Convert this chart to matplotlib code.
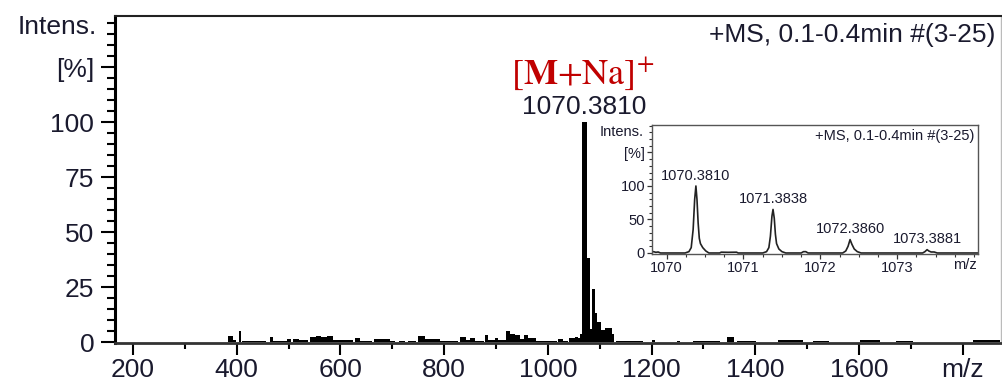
import matplotlib
matplotlib.use("Agg")
import matplotlib.pyplot as plt
from matplotlib.ticker import MultipleLocator

plt.rcParams['font.family'] = ['Liberation Sans', 'DejaVu Sans']

# ---- full-range spectrum: (m/z start, m/z end, relative intensity %) ----
seg_start = [383.8, 393.2, 405.0, 411.0, 464.0, 470.5, 496.0, 509.0, 521.0, 541.0, 552.0, 563.0, 574.0,
             586.0, 599.0, 628.0, 638.0, 664.0, 696.0, 712.0, 730.0, 750.0, 763.0, 792.0, 830.0,
             843.0, 849.0, 859.0, 878.0, 885.0, 898.0, 904.0, 919.0, 927.0, 937.0, 946.0, 953.0,
             962.0, 978.0, 1020.0, 1030.0, 1040.0, 1046.0, 1052.0, 1058.0, 1062.0,
             1066.5, 1074.5, 1081.2, 1084.4, 1091.0, 1095.4, 1101.8, 1110.0, 1123.0,
             1132.0, 1200.0, 1248.0, 1280.0, 1345.0, 1364.0, 1444.0, 1511.0, 1601.0, 1672.0, 1820.0]
seg_end = [393.2, 398.0, 408.0, 457.0, 470.5, 496.0, 505.0, 521.0, 537.0, 552.0, 563.0, 574.0, 586.0,
           599.0, 625.0, 638.0, 660.0, 696.0, 706.0, 724.0, 745.0, 763.0, 792.0, 826.0, 843.0,
           849.0, 859.0, 876.0, 885.0, 898.0, 904.0, 919.0, 927.0, 937.0, 946.0, 953.0, 962.0,
           978.0, 1018.0, 1030.0, 1038.0, 1046.0, 1052.0, 1058.0, 1062.0, 1066.5,
           1074.5, 1081.2, 1084.4, 1091.0, 1095.4, 1101.8, 1110.0, 1123.0, 1127.0,
           1184.0, 1206.0, 1254.0, 1332.0, 1358.0, 1402.0, 1492.0, 1543.0, 1640.0, 1704.0, 1871.0]
seg_int = [2.6, 0.8, 4.8, 0.4, 2.2, 0.6, 1.2, 1.4, 0.8, 2.4, 2.8, 2.3, 2.8,
           1.0, 0.7, 1.6, 0.6, 1.2, 0.5, 0.5, 0.5, 2.8, 1.2, 0.6, 2.2,
           1.0, 2.0, 0.6, 3.0, 1.0, 1.8, 0.8, 5.2, 3.8, 3.2, 1.5, 3.0,
           1.6, 0.6, 1.3, 0.6, 2.0, 1.6, 2.5, 2.0, 3.5,
           100.0, 38.0, 6.0, 24.0, 13.0, 9.0, 5.5, 6.5, 3.5,
           0.6, 0.8, 0.6, 0.6, 2.4, 0.6, 0.7, 0.6, 0.7, 0.6, 0.7]

x_ticks = [200, 400, 600, 800, 1000, 1200, 1400, 1600, 1800]
x_labels = ['200', '400', '600', '800', '1000', '1200', '1400', '1600', 'm/z']
y_ticks = [0, 25, 50, 75, 100, 125]
y_labels = ['0', '25', '50', '75', '100', '[%]']

main_peak_mz = 1070.3810
main_peak_int = 100.0
ion_label = r'$[\mathbf{M}\mathrm{+Na}]^{+}$'
scan_info = '+MS, 0.1-0.4min #(3-25)'

# ---- zoomed isotope envelope (profile trace) ----
iso_mz = [1069.81, 1069.83, 1069.86, 1069.89, 1069.92, 1070.24, 1070.29, 1070.32, 1070.345, 1070.365,
          1070.381, 1070.395, 1070.41, 1070.425, 1070.44, 1070.47, 1070.51, 1070.55, 1070.69, 1070.71,
          1070.80, 1070.91, 1070.93, 1071.25, 1071.30, 1071.33, 1071.35, 1071.37, 1071.384, 1071.40,
          1071.415, 1071.43, 1071.46, 1071.50, 1071.55, 1071.75, 1071.78, 1071.81, 1071.84, 1072.29,
          1072.33, 1072.36, 1072.386, 1072.41, 1072.44, 1072.48, 1072.53, 1073.33, 1073.36, 1073.388,
          1073.41, 1073.44, 1073.48, 1073.52, 1074.05]
iso_int = [1.5, 2.0, 1.0, 1.5, 0.0, 0.0, 2.0, 8.0, 35.0, 80.0,
           100.0, 80.0, 45.0, 22.0, 14.0, 8.0, 3.0, 0.0, 0.0, 1.2,
           1.0, 1.2, 0.0, 0.0, 2.0, 8.0, 25.0, 55.0, 65.0, 52.0,
           28.0, 14.0, 6.0, 2.0, 0.0, 0.0, 2.0, 2.0, 0.0, 0.0,
           3.0, 10.0, 20.0, 13.0, 6.0, 2.0, 0.0, 0.0, 2.0, 5.0,
           3.0, 1.5, 1.5, 0.0, 0.0]
iso_label_mz = [1070.3810, 1071.3838, 1072.3860, 1073.3881]
iso_label_int = [100.0, 65.0, 20.0, 5.0]
iso_x_ticks = [1070, 1071, 1072, 1073]
iso_y_ticks = [0, 50, 100, 150]
iso_y_labels = ['0', '50', '100', '[%]']

TXT = '#1a1a2e'
W, H = 1003, 385
fig = plt.figure(figsize=(W / 100, H / 100), dpi=100)

# ---------------- main spectrum ----------------
ax = fig.add_axes([115 / W, 1 - 343 / H, 886 / W, 327 / H])
widths = [e - s for s, e in zip(seg_start, seg_end)]
ax.bar(seg_start, seg_int, width=widths, align='edge', color='black', linewidth=0)
ax.set_xlim(165.3, 1873.7)

ax.set_xticks(x_ticks)
ax.set_xticklabels(x_labels)
ax.xaxis.set_minor_locator(MultipleLocator(100))
ax.set_yticks(y_ticks)
ax.set_yticklabels(y_labels)
ax.yaxis.set_minor_locator(MultipleLocator(5))
ax.set_ylim(-0.45, 148.2)

ax.tick_params(axis='x', which='major', length=8.6, width=1.5, pad=2, labelsize=19)
ax.tick_params(axis='x', which='minor', length=4.3, width=1.5)
ax.tick_params(axis='y', which='major', length=10, width=1.5, pad=5, labelsize=19)
ax.tick_params(axis='y', which='minor', length=5.8, width=1.5)
for lab in ax.get_xticklabels() + ax.get_yticklabels():
    lab.set_color(TXT)

ax.spines['left'].set_linewidth(2.2)
ax.spines['bottom'].set_linewidth(2.0)
ax.spines['bottom'].set_color('#333333')
ax.spines['top'].set_linewidth(1.5)
ax.spines['top'].set_color('#222222')
ax.spines['right'].set_linewidth(1.0)
ax.spines['right'].set_color('#bbbbbb')

ax.text(-0.020, 143.0, 'Intens.', transform=ax.get_yaxis_transform(),
        ha='right', va='center', fontsize=19, color=TXT)
ax.text(0.994, 0.943, scan_info, transform=ax.transAxes, ha='right', va='center',
        fontsize=19, color=TXT)

ax.annotate(f'{main_peak_mz:.4f}', xy=(main_peak_mz, main_peak_int), xytext=(0, 2),
            textcoords='offset points', ha='center', va='bottom', fontsize=19, color=TXT)
ax.annotate(ion_label, xy=(main_peak_mz, main_peak_int), xytext=(-1, 21),
            textcoords='offset points', ha='center', va='bottom', fontsize=26,
            color='#c00000', math_fontfamily='stix')

# ---------------- isotope inset ----------------
ins = fig.add_axes([652 / W, 1 - 254 / H, 326 / W, 129 / H])
ins.plot(iso_mz, iso_int, color='#222222', linewidth=1.2)
ins.set_xlim(1069.81, 1074.05)
ins.set_xticks(iso_x_ticks)
ins.xaxis.set_minor_locator(MultipleLocator(0.25))
ins.set_yticks(iso_y_ticks)
ins.set_yticklabels(iso_y_labels)
ins.yaxis.set_minor_locator(MultipleLocator(10))
ins.set_ylim(-1.5, 191)
ins.tick_params(axis='both', which='major', length=3.5, width=0.9, pad=1.5, labelsize=10.5,
                colors='#333333', labelcolor=TXT)
ins.tick_params(axis='both', which='minor', length=2.2, width=0.8, colors='#333333')
for sp in ins.spines.values():
    sp.set_linewidth(1.0)
    sp.set_color('#555555')

ins.text(-0.025, 180, 'Intens.', transform=ins.get_yaxis_transform(),
         ha='right', va='center', fontsize=10.5, color=TXT)
ins.text(0.99, 0.915, scan_info, transform=ins.transAxes, ha='right', va='center',
         fontsize=10.5, color=TXT)
ins.text(0.995, -0.03, 'm/z', transform=ins.transAxes, ha='right', va='top',
         fontsize=10.5, color=TXT)
for mz, it in zip(iso_label_mz, iso_label_int):
    ins.annotate(f'{mz:.4f}', xy=(mz, it), xytext=(0, 2.5), textcoords='offset points',
                 ha='center', va='bottom', fontsize=10.5, color=TXT)

fig.savefig('out.png', dpi=100)
